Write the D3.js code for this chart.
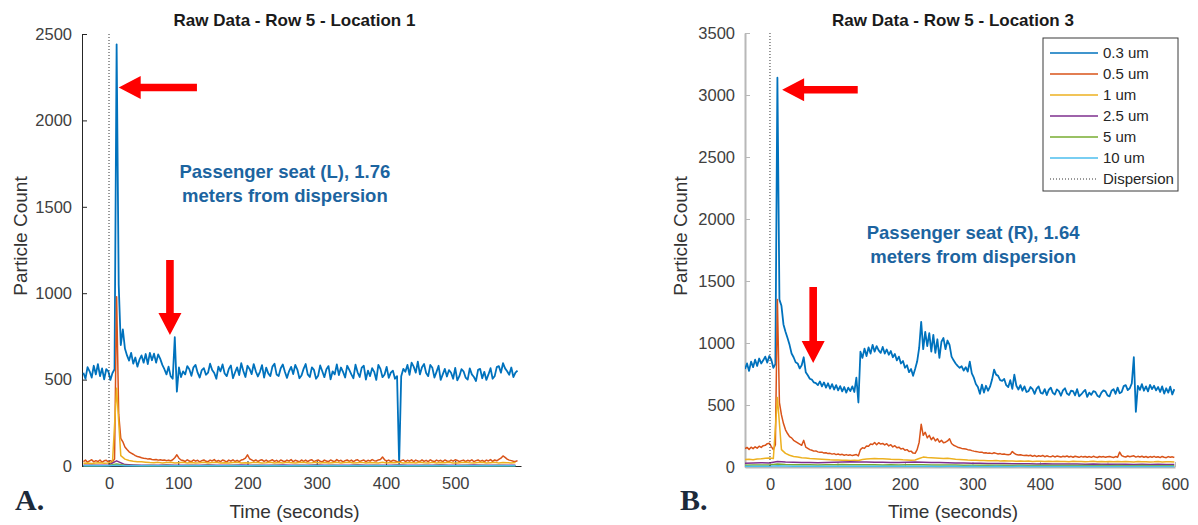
<!DOCTYPE html>
<html><head><meta charset="utf-8">
<script src="https://cdn.jsdelivr.net/npm/d3@7"></script>
<style>
body{margin:0;background:#fff;}
svg{display:block;font-family:"Liberation Sans",Arial,Helvetica,sans-serif;}
</style>
</head><body>
<svg id="c" width="1198" height="525"></svg>
<script>
// ---------------- DATA ----------------
const sizeNames = ["0.3 um","0.5 um","1 um","2.5 um","5 um","10 um"];
const seriesColors = ["#0072BD","#D95319","#EDB120","#7E2F8E","#77AC30","#4DBEEE"];
const timeStart = -37;          // first sample (seconds)
const fineStep = 3, midStep = 6, coarseStep = 12;

const xTicksL = [0,100,200,300,400,500];
const xTicksR = [0,100,200,300,400,500,600];
const yTicksL = [0,500,1000,1500,2000,2500];
const yTicksR = [0,500,1000,1500,2000,2500,3000,3500];

// Location 1 (panel A)
const blueL = [540,505,572,548,512,580,530,590,520,565,502,560,548,498,538,560,
2440,
1050,700,790,680,640,610,655,592,628,575,615,640,598,648,590,655,612,650,598,646,620,585,560,530,575,520,505,745,430,570,515,
548,530,578,560,522,571,585,540,512,555,
566,528,540,592,556,538,505,575,548,588,
535,520,562,582,508,541,571,526,595,550,
515,580,562,532,590,548,518,545,584,512,
569,536,520,575,592,530,521,566,587,545,
510,548,574,532,585,558,508,524,562,590,
530,515,571,556,505,522,582,548,514,560,
578,502,548,530,588,526,570,545,512,580,
556,530,508,586,542,515,569,580,500,552,
520,566,545,498,585,562,514,530,574,510,
540,552,505,520,
15,
520,562,545,585,528,598,575,540,604,530,
572,590,538,520,585,568,512,545,580,498,
530,562,518,555,540,505,568,496,520,560,
548,512,500,565,530,515,492,556,562,508,
545,498,530,566,505,520,572,578,540,595,
565,548,528,570,515,540,552];
const orangeL = [26,34,22,30,36,24,31,25,35,22,30,33,24,31,25,40,
980,
300,160,140,110,95,82,75,68,60,55,52,48,45,44,40,42,38,36,38,34,36,33,35,31,34,30,36,48,65,45,35,
32,26,36,29,25,35,28,33,24,31,
35,27,25,34,29,37,26,32,25,35,
30,24,34,28,36,26,33,25,35,38,
45,65,42,35,28,35,26,33,36,27,
34,25,31,36,27,33,24,35,29,26,
34,28,37,25,33,29,24,35,27,34,
26,33,36,25,31,35,27,24,34,29,
25,35,29,26,37,28,33,24,31,35,
27,34,25,33,36,26,31,35,25,33,
28,37,31,29,35,38,52,36,29,34,
26,33,30,25,
20,
31,35,26,33,28,36,25,34,29,26,
35,27,33,25,36,29,26,34,28,33,
25,35,29,26,34,28,36,32,25,31,
34,26,33,28,36,25,31,35,27,33,
26,34,29,37,27,35,30,38,45,58,
50,40,34,31,28,26,31];
const yellowL = [16,18,15,17,19,16,18,22,
450,
60,40,32,28,25,24,22,20,
19,21,18,20,22,17,19,21,18,20,
17,19,22,18,20,21,17,19,18,20,
22,18,19,17,21,20,18,19,22,17,
20,18,21,19,17,20,22,18,19,21,
18,20,17,19,21,18,20,22,17,19,
21,18,20,19,17,22,18,20,19,21,
17,19,20,18,22,19,17,21,18,20,
19,22,18,17,20,21,19,18,20,22,
17,19,21,18,20,19,18,20];
const purpleL = [4,5,4,5,30,8,6,5,4,5,6,4,5,5,4,6,5,4,5,6,4,5,5,4,6,5,4,5,6,5,4,5,4,6,5,5,4,5,6,4,5,5,4,6,5,4,5,6,4,5,5,4,5];
const greenL = [2,3,2,3,12,4,3,2,3,2,3,2,2,3,2,3,2,2,3,2,2,3,2,3,2,2,3,2,3,2,3,2,2,3,2,3,2,2,3,2,2,3,2,3,2,2,3,2,3,2,3,2,2];
const cyanL = [1,1,1,1,5,2,1,1,1,1,1,2,1,1,1,1,1,1,2,1,1,1,1,1,1,2,1,1,1,1,1,1,1,2,1,1,1,1,1,1,2,1,1,1,1,1,1,1,2,1,1,1,1];

// Location 3 (panel B)
const blueR = [790,835,775,850,805,865,815,875,835,860,890,842,895,865,800,830,
3140,
1350,1300,1150,1090,1040,985,915,885,845,835,795,820,885,765,740,712,705,682,676,660,690,650,682,640,675,632,668,625,660,618,652,610,645,600,640,612,650,605,720,520,
930,880,955,895,965,915,985,930,975,940,920,968,915,948,905,935,885,912,860,890,835,855,800,820,765,790,735,
790,850,960,1170,950,1090,975,1080,930,1065,920,1030,880,1010,1040,950,1020,985,
890,860,835,815,800,812,778,805,770,850,755,720,670,645,590,665,600,655,615,648,705,785,745,735,700,695,710,660,645,700,630,745,655,625,660,615,650,605,
612,645,628,590,632,650,598,592,628,580,
622,640,598,585,626,612,575,618,635,592,
580,615,612,578,628,570,585,605,622,565,
600,582,612,606,575,565,600,618,610,578,
570,615,628,590,640,595,605,652,660,620,
635,675,
885,
445,
655,622,668,615,650,610,662,628,655,618,
645,605,650,592,635,600,648,585,628];
const orangeR = [148,158,142,160,148,163,152,168,158,172,175,188,192,165,140,180,
1350,
520,420,350,300,270,245,235,215,205,195,185,175,215,160,150,140,135,128,130,122,118,120,112,115,108,110,104,108,100,105,98,102,95,100,94,98,92,96,100,90,
140,155,150,170,168,185,182,198,180,196,
185,190,178,188,170,180,162,172,155,160,
145,150,135,140,125,128,112,110,140,200,
345,255,280,235,255,220,240,210,228,200,
215,195,200,210,228,
190,175,168,160,155,150,148,145,140,138,132,128,125,122,118,120,112,115,110,112,108,115,110,105,108,102,105,100,98,102,125,110,100,96,98,94,92,95,
90,95,86,93,84,91,86,93,83,90,
85,82,90,81,88,84,80,87,83,89,
81,86,79,87,83,78,86,80,85,79,
84,78,86,81,77,85,80,84,78,83,
85,80,77,84,79,120,92,85,81,89,
83,87,
90,
80,
86,81,87,79,85,77,84,79,86,78,
83,76,85,79,75,84,78,82,76];
const yellowR = [60,62,58,64,66,70,72,68,
560,
140,110,95,85,80,75,72,68,66,64,62,60,58,57,56,55,54,53,54,52,60,64,66,68,67,66,64,62,61,60,58,57,55,56,68,80,76,74,72,70,68,70,66,62,60,58,
56,55,54,52,53,51,50,52,49,50,
48,49,47,48,46,48,45,47,46,44,
46,45,47,44,45,43,46,44,45,43,
44,46,43,45,42,44,43,45,42,44,
43,41,44,42,43,41,42,44,41,43,
42,40];
const purpleR = [30,32,34,33,45,40,38,37,36,35,36,38,40,42,41,40,39,38,37,36,38,40,39,37,36,35,33,32,31,30,29,28,28,27,26,27,25,26,25,24,25,24,23,24,23,22,23,22,21,22,21,22,20,21];
const greenR = [15,16,17,16,24,20,19,18,18,17,18,19,20,19,18,19,18,17,18,17,18,19,18,17,17,16,16,15,15,14,15,14,14,13,14,13,13,12,13,12,12,13,12,11,12,11,12,11,11,12,11,10,11,10];
const cyanR = [6,7,6,7,10,8,7,7,6,7,7,6,7,7,6,7,6,6,7,6,6,7,6,6,5,6,6,5,6,5,5,6,5,5,6,5,5,4,5,5,4,5,5,4,5,4,4,5,4,4,5,4,4,5];

const noteL = ["Passenger seat (L), 1.76","meters from dispersion"];
const noteR = ["Passenger seat (R), 1.64","meters from dispersion"];

// ---------------- DRAW ----------------
const svg = d3.select("#c");
const defs = svg.append("defs");

function panel(o){
  const x = d3.scaleLinear().domain(o.xDomain).range(o.xRange);
  const y = d3.scaleLinear().domain(o.yDomain).range(o.yRange);
  const g = svg.append("g");
  const x0 = o.xRange[0], x1 = o.xRange[1], yb = o.yRange[0], yt = o.yRange[1];

  defs.append("clipPath").attr("id", o.id+"clip").append("rect")
    .attr("x", x0).attr("y", yt-2).attr("width", x1-x0).attr("height", yb-yt+4);

  const ya = g.append("g").attr("transform", `translate(${x0},0)`)
    .call(d3.axisLeft(y).tickValues(o.yTicks).tickSizeInner(-5).tickSizeOuter(0).tickPadding(10).tickFormat(d3.format("d")));
  const xa = g.append("g").attr("transform", `translate(0,${yb})`)
    .call(d3.axisBottom(x).tickValues(o.xTicks).tickSizeInner(-5).tickSizeOuter(0).tickPadding(11).tickFormat(d3.format("d")));
  [ya, xa].forEach(a => {
    a.selectAll("text").attr("font-size", "16.5px").attr("fill", "#404040").attr("font-family", "Liberation Sans, Arial, sans-serif");
    a.select(".domain").attr("stroke", o.axisColor).attr("stroke-width", o.axisWidth);
    a.selectAll(".tick line").attr("stroke", o.axisColor).attr("stroke-width", 1);
  });

  const lines = g.append("g").attr("clip-path", `url(#${o.id}clip)`);
  o.series.forEach((s, i) => {
    const line = d3.line().x((d, k) => x(timeStart + k * s.step)).y(d => y(d));
    lines.append("path").datum(s.values).attr("d", line)
      .attr("fill", "none").attr("stroke", seriesColors[i])
      .attr("stroke-width", i === 0 ? 1.8 : 1.5).attr("stroke-linejoin", "round");
  });
  lines.append("line").attr("x1", x(0)).attr("x2", x(0)).attr("y1", yt).attr("y2", yb)
    .attr("stroke", "#333").attr("stroke-width", 1).attr("stroke-dasharray", "1,2");

  const cx = (x0 + x1) / 2 - 7;
  g.append("text").attr("x", cx).attr("y", 26).attr("text-anchor", "middle")
    .attr("font-size", "17px").attr("font-weight", "bold").attr("fill", "#1a1a1a").text(o.title);
  g.append("text").attr("x", cx).attr("y", 518).attr("text-anchor", "middle")
    .attr("font-size", "19px").attr("fill", "#333").text("Time (seconds)");
  g.append("text").attr("transform", `translate(${o.ylabX},236) rotate(-90)`).attr("text-anchor", "middle")
    .attr("dy", "0.35em").attr("font-size", "19px").attr("fill", "#333").text("Particle Count");

  const nt = g.append("text").attr("text-anchor", "middle").attr("font-size", "18.5px")
    .attr("font-weight", "bold").attr("fill", "#1c64a0");
  o.note.forEach((t, i) => nt.append("tspan").attr("x", x(o.noteAt[0])).attr("y", y(o.noteAt[1]) + i * 24).text(t));

  o.arrows.forEach(a => {
    const ax1 = x(a[0]), ay1 = y(a[1]), ax2 = x(a[2]), ay2 = y(a[3]);
    const ang = Math.atan2(ay2 - ay1, ax2 - ax1);
    const len = Math.hypot(ax2 - ax1, ay2 - ay1);
    const hl = 22, hw = 11.5, sw = 3.8;
    const pts = [[0,-sw],[len-hl,-sw],[len-hl,-hw],[len,0],[len-hl,hw],[len-hl,sw],[0,sw]];
    g.append("path").attr("d", "M" + pts.map(p => p.join(",")).join("L") + "Z")
      .attr("transform", `translate(${ax1},${ay1}) rotate(${ang*180/Math.PI})`)
      .attr("fill", "#ff0000");
  });

  g.append("text").attr("x", o.letterX).attr("y", 510).attr("font-family", "Liberation Serif, Times New Roman, serif")
    .attr("font-weight", "bold").attr("font-size", "30px").attr("fill", "#1c2a3a").text(o.letter);
}

panel({
  id: "L", title: "Raw Data - Row 5 - Location 1",
  xDomain: [-39, 595], xRange: [82, 521], yDomain: [0, 2500], yRange: [466, 34],
  xTicks: xTicksL, yTicks: yTicksL, axisColor: "#262626", axisWidth: 1, ylabX: 20,
  series: [
    {values: blueL, step: fineStep}, {values: orangeL, step: fineStep}, {values: yellowL, step: midStep},
    {values: purpleL, step: coarseStep}, {values: greenL, step: coarseStep}, {values: cyanL, step: coarseStep}
  ],
  note: noteL, noteAt: [254, 1667],
  arrows: [[127, 2190, 14, 2190], [88, 1192, 88, 758]],
  letter: "A.", letterX: 15
});

panel({
  id: "R", title: "Raw Data - Row 5 - Location 3",
  xDomain: [-37, 600], xRange: [745, 1175], yDomain: [0, 3500], yRange: [467, 33],
  xTicks: xTicksR, yTicks: yTicksR, axisColor: "#b8b8b8", axisWidth: 2, ylabX: 680,
  series: [
    {values: blueR, step: fineStep}, {values: orangeR, step: fineStep}, {values: yellowR, step: midStep},
    {values: purpleR, step: coarseStep}, {values: greenR, step: coarseStep}, {values: cyanR, step: coarseStep}
  ],
  note: noteR, noteAt: [301, 1840],
  arrows: [[130, 3042, 18, 3042], [64, 1452, 64, 839]],
  letter: "B.", letterX: 680
});

// legend (panel B)
const lg = svg.append("g").attr("transform", "translate(1043,38)");
lg.append("rect").attr("width", 135).attr("height", 153).attr("fill", "#fff").attr("stroke", "#3a3a3a").attr("stroke-width", 1);
const legendItems = sizeNames.map((n, i) => ({name: n, color: seriesColors[i], dash: null}))
  .concat([{name: "Dispersion", color: "#333", dash: "1,2"}]);
legendItems.forEach((d, i) => {
  const yy = 15 + i * 21;
  lg.append("line").attr("x1", 7).attr("x2", 55).attr("y1", yy).attr("y2", yy)
    .attr("stroke", d.color).attr("stroke-width", d.dash ? 1 : 1.5).attr("stroke-dasharray", d.dash);
  lg.append("text").attr("x", 60).attr("y", yy).attr("dy", "0.35em").attr("font-size", "15px").attr("fill", "#262626").text(d.name);
});
</script>
</body></html>
